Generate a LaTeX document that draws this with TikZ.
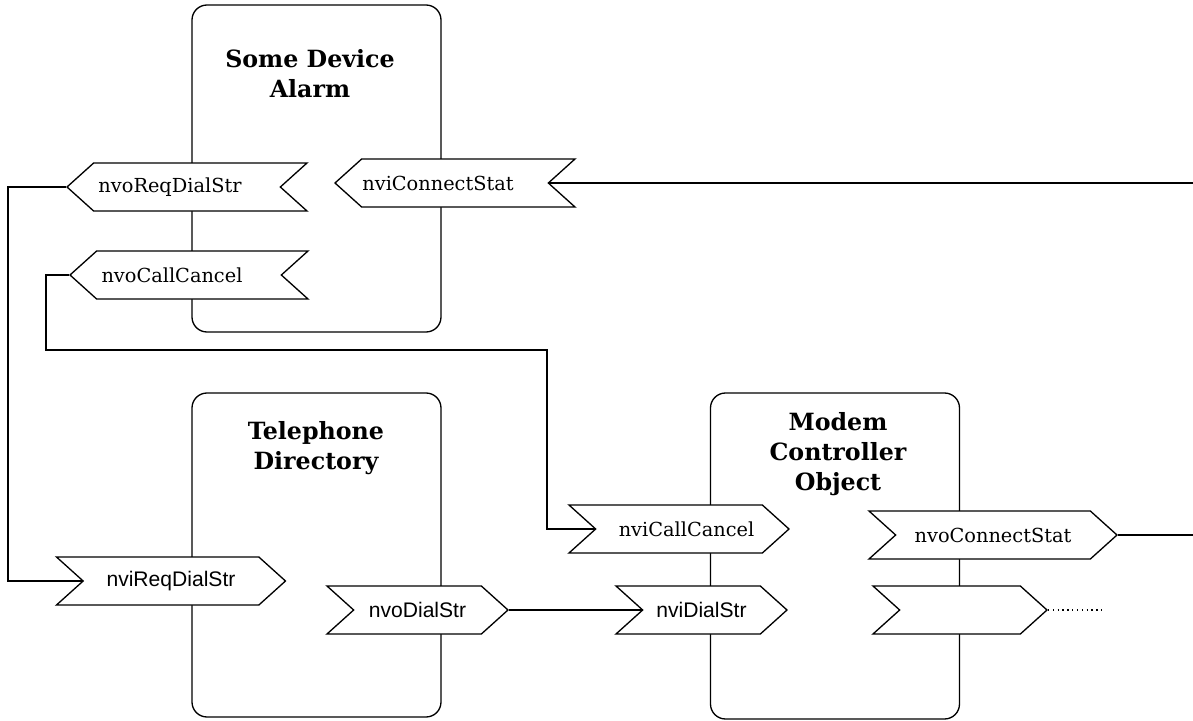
\documentclass[tikz,border=0pt]{standalone}
\usepackage{fontspec}
\setmainfont{DejaVu Serif}
\newfontfamily\arialfont{Liberation Sans}
\usetikzlibrary{shapes.symbols}

\begin{document}
\begin{tikzpicture}[x=0.2mm,y=-0.2mm,line width=0.75pt,
  block/.style={draw,rounded corners=3mm,minimum width=49.8mm,inner sep=0pt},
  title/.style={font=\fontsize{13.5}{17}\selectfont\bfseries,align=center},
  flag/.style={draw,fill=white,shape=signal,signal pointer angle=84,minimum height=9.6mm,inner sep=0pt,font=\fontsize{11}{13}\selectfont},
  leftflag/.style={flag,signal to=west,signal from=east,execute at end node=\hspace*{6.8mm}},
  rightflag/.style={flag,signal to=east,signal from=west},
  sans/.style={font=\arialfont\fontsize{12}{14}\selectfont}]
      \useasboundingbox (0,0) rectangle (1193,721);
      \draw (316.5,168.5) node[block,minimum height=65.4mm] (alarm) {};
      \draw (316.5,555) node[block,minimum height=64.8mm] (directory) {};
      \draw (835,556) node[block,minimum height=65.2mm] (modem) {};
      \draw (310,74) node[title] (alarmtitle) {Some Device\\Alarm};
      \draw (316,448) node[title] (directorytitle) {Telephone\\Directory};
      \draw (838,454) node[title] (modemtitle) {Modem\\Controller\\Object};
%%%%%%%%%%%%%%%%%%%%%%%%%%%%%%%%%%%%%%%%%%%%%%%%%%%%%%%%%%%%%%%%%%%%%%%
      \draw (187,187) node[leftflag,minimum width=48mm] (nvoReqDialStr) {nvoReqDialStr};
      \draw (455,183) node[leftflag,minimum width=48mm] (nviConnectStat) {nviConnectStat};
      \draw (189,275) node[leftflag,minimum width=47.6mm] (nvoCallCancel) {nvoCallCancel};
      \draw (171,581) node[rightflag,sans,minimum width=45.8mm] (nviReqDialStr) {nviReqDialStr};
      \draw (417.5,610) node[rightflag,sans,minimum width=36.2mm] (nvoDialStr) {nvoDialStr};
      \draw (679,529) node[rightflag,minimum width=44mm] (nviCallCancel) {\hspace*{3mm}nviCallCancel};
      \draw (701.5,610) node[rightflag,sans,minimum width=34.2mm] (nviDialStr) {nviDialStr};
      \draw (993,535) node[rightflag,minimum width=49.6mm] (nvoConnectStat) {nvoConnectStat};
      \draw (960,610) node[rightflag,minimum width=34.8mm] (nvoSpare) {};
      \coordinate (statin) at (1193,183);
      \coordinate (statout) at (1193,535);
      \coordinate (spareout) at (1102,610);
%%%%%%%%%%%%%%%%%%%%%%%%%%%%%%%%%%%%%%%%%%%%%%%%%%%%%%%%%%%%%%%%%%%%%%%
      \draw (nvoReqDialStr.west) -- ++(-58,0) |- (nviReqDialStr.west);
      \draw (nvoCallCancel.west) -- ++(-23,0) |- (547,350) |- (nviCallCancel.west);
      \path[-] (statin) edge (nviConnectStat.east);
      \path[-] (nvoConnectStat.east) edge (statout);
      \path[-] (nvoDialStr.east) edge (nviDialStr.west);
      \path[-,dotted] (nvoSpare.east) edge (spareout);
\end{tikzpicture}
\end{document}
